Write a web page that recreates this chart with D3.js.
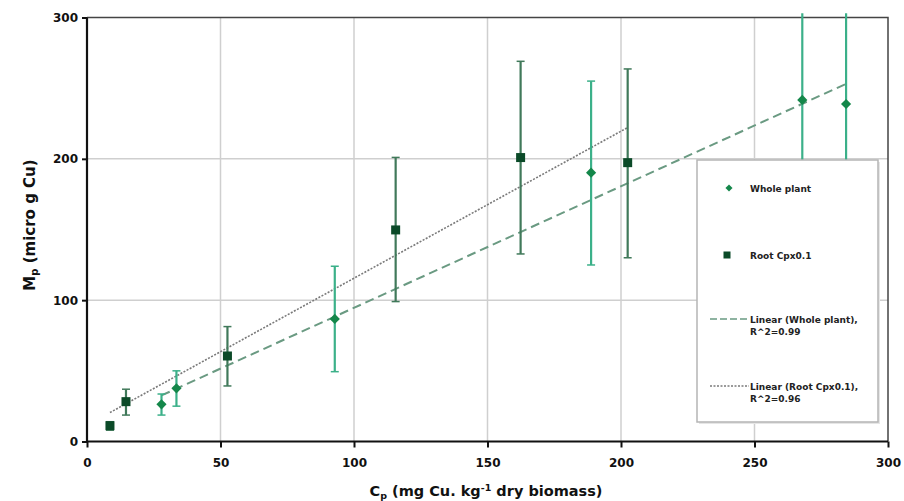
<!DOCTYPE html>
<html>
<head>
<meta charset="utf-8">
<script src="https://cdn.jsdelivr.net/npm/d3@7/dist/d3.min.js"></script>
<style>
  html, body { margin: 0; padding: 0; background: #fff; }
  svg { display: block; font-family: "DejaVu Sans", Verdana, sans-serif; }
</style>
</head>
<body>
<svg id="chart" width="904" height="501"></svg>
<script>
// Whole plant: Cp (mg Cu/kg dry biomass), Mp (µg Cu), error bar low/high
const wholeX   = [27.9, 33.5, 92.8, 188.8, 267.9, 284.3];
const wholeY   = [26.3, 37.6, 86.7, 190.2, 241.7, 238.8];
const wholeLo  = [18.7, 25.0, 49.4, 124.9, 180.0, 175.0];
const wholeHi  = [33.6, 50.0, 124.0, 255.0, 303.0, 303.0];

// Root (Cp x 0.1)
const rootX    = [8.6, 14.6, 52.6, 115.6, 162.4, 202.5];
const rootY    = [11.2, 28.2, 60.5, 149.7, 200.9, 197.3];
const rootLo   = [8.0, 18.7, 39.3, 99.0, 132.7, 130.0];
const rootHi   = [14.0, 37.0, 81.3, 201.0, 269.0, 263.6];

const xTicks = [0, 50, 100, 150, 200, 250, 300];
const yTicks = [0, 100, 200, 300];

const legendLabels = [
  ["Whole plant"],
  ["Root Cpx0.1"],
  ["Linear (Whole plant),", "R^2=0.99"],
  ["Linear (Root Cpx0.1),", "R^2=0.96"]
];

const C = {
  wholeMark: "#14874a",
  wholeErr: "#3bb089",
  rootMark: "#0b4a28",
  rootErr: "#40795a",
  wholeFit: "#6a9a82",
  rootFit: "#7a7a7a",
  grid: "#cfcfcf"
};

const svg = d3.select("#chart");
const pL = 87, pR = 888, pT = 17.5, pB = 441.5;

const x = d3.scaleLinear().domain([0, 300]).range([pL, pR]);
const y = d3.scaleLinear().domain([0, 300]).range([pB, pT]);

// least-squares fit over a series
function fit(xs, ys) {
  const mx = d3.mean(xs), my = d3.mean(ys);
  const sxy = d3.sum(xs, (v, i) => (v - mx) * (ys[i] - my));
  const sxx = d3.sum(xs, v => (v - mx) * (v - mx));
  const b = sxy / sxx;
  return { b, a: my - b * mx, x0: d3.min(xs), x1: d3.max(xs) };
}

// gridlines
svg.append("g").selectAll("line").data(xTicks.slice(1, -1)).join("line")
  .attr("x1", d => x(d)).attr("x2", d => x(d))
  .attr("y1", pT).attr("y2", pB)
  .attr("stroke", C.grid).attr("stroke-width", 1.5);
svg.append("g").selectAll("line").data(yTicks.slice(1, -1)).join("line")
  .attr("x1", pL).attr("x2", pR)
  .attr("y1", d => y(d)).attr("y2", d => y(d))
  .attr("stroke", C.grid).attr("stroke-width", 1.5);

// plot frame (top and right)
svg.append("path")
  .attr("d", `M${pL},${pT}H${pR}V${pB}`)
  .attr("fill", "none").attr("stroke", "#444").attr("stroke-width", 1.5);

// trend lines
const fw = fit(wholeX, wholeY);
const fr = fit(rootX, rootY);
svg.append("line")
  .attr("x1", x(fw.x0)).attr("y1", y(fw.a + fw.b * fw.x0))
  .attr("x2", x(fw.x1)).attr("y2", y(fw.a + fw.b * fw.x1))
  .attr("stroke", C.wholeFit).attr("stroke-width", 2)
  .attr("stroke-dasharray", "9,5");
svg.append("line")
  .attr("x1", x(fr.x0)).attr("y1", y(fr.a + fr.b * fr.x0))
  .attr("x2", x(fr.x1)).attr("y2", y(fr.a + fr.b * fr.x1))
  .attr("stroke", C.rootFit).attr("stroke-width", 1.6)
  .attr("stroke-dasharray", "2,1.5");

// error bars
function errorBars(xs, lo, hi, color, width) {
  const g = svg.append("g").attr("stroke", color).attr("stroke-width", width);
  xs.forEach((v, i) => {
    g.append("line").attr("x1", x(v)).attr("x2", x(v))
      .attr("y1", y(Math.min(hi[i], 303))).attr("y2", y(lo[i]));
    [lo[i], hi[i]].forEach(e => {
      if (e <= 300) {
        g.append("line").attr("x1", x(v) - 4).attr("x2", x(v) + 4)
          .attr("y1", y(e)).attr("y2", y(e)).attr("stroke-width", 1.5);
      }
    });
  });
}
errorBars(wholeX, wholeLo, wholeHi, C.wholeErr, 2.2);
errorBars(rootX, rootLo, rootHi, C.rootErr, 2.2);

// markers: rotated squares for the whole plant, squares for the root
svg.append("g").selectAll("rect").data(wholeX).join("rect")
  .attr("transform", (d, i) => `translate(${x(d)},${y(wholeY[i])}) rotate(45)`)
  .attr("x", -3.6).attr("y", -3.6).attr("width", 7.2).attr("height", 7.2)
  .attr("fill", C.wholeMark);
svg.append("g").selectAll("rect").data(rootX).join("rect")
  .attr("x", d => x(d) - 4.5).attr("y", (d, i) => y(rootY[i]) - 4.5)
  .attr("width", 9).attr("height", 9)
  .attr("fill", C.rootMark);

// axes
const xAxis = svg.append("g").attr("transform", `translate(0,${pB})`)
  .call(d3.axisBottom(x).tickValues(xTicks).tickSize(6).tickPadding(11));
const yAxis = svg.append("g").attr("transform", `translate(${pL},0)`)
  .call(d3.axisLeft(y).tickValues(yTicks).tickSize(5).tickPadding(4));
[xAxis, yAxis].forEach(a => {
  a.select(".domain").attr("stroke", "#111").attr("stroke-width", 2.2);
  a.selectAll(".tick line").attr("stroke", "#111").attr("stroke-width", 2);
  a.selectAll(".tick text").attr("font-size", 12).attr("font-weight", "bold")
    .attr("fill", "#111").attr("font-family", "DejaVu Sans, sans-serif");
});
yAxis.select(".domain").attr("d", `M0,${pT}V${pB}`);
xAxis.select(".domain").attr("d", `M${pL},0H${pR}`);

// axis titles
const xt = svg.append("text").attr("x", 486).attr("y", 496)
  .attr("text-anchor", "middle").attr("font-size", 14.5)
  .attr("font-weight", "bold").attr("fill", "#111");
xt.append("tspan").text("C");
xt.append("tspan").attr("font-size", 9.5).attr("dy", 3).text("p");
xt.append("tspan").attr("dy", -3).text(" (mg Cu. kg");
xt.append("tspan").attr("font-size", 9.5).attr("dy", -5).text("-1");
xt.append("tspan").attr("dy", 5).text(" dry biomass)");

const yt = svg.append("text")
  .attr("transform", "translate(35,225) rotate(-90)")
  .attr("text-anchor", "middle").attr("font-size", 15)
  .attr("font-weight", "bold").attr("fill", "#111");
yt.append("tspan").text("M");
yt.append("tspan").attr("font-size", 10).attr("dy", 3).text("p");
yt.append("tspan").attr("dy", -3).text(" (micro g Cu)");

// legend
const lg = svg.append("g");
lg.append("rect").attr("x", 699).attr("y", 162).attr("width", 181).attr("height", 262)
  .attr("fill", "#e6e6e6");
lg.append("rect").attr("x", 697).attr("y", 160).attr("width", 181).attr("height", 262)
  .attr("fill", "#fff").attr("stroke", "#b5b5b5").attr("stroke-width", 1.5);
const rowY = [188, 255, 319, 386];
lg.append("rect")
  .attr("transform", `translate(729,${rowY[0]}) rotate(45)`)
  .attr("x", -2.5).attr("y", -2.5).attr("width", 5).attr("height", 5)
  .attr("fill", C.wholeMark);
lg.append("rect").attr("x", 723.5).attr("y", rowY[1] - 3.5).attr("width", 7).attr("height", 7)
  .attr("fill", C.rootMark);
lg.append("line").attr("x1", 710).attr("x2", 749).attr("y1", rowY[2]).attr("y2", rowY[2])
  .attr("stroke", C.wholeFit).attr("stroke-width", 1.6).attr("stroke-dasharray", "7,3");
lg.append("line").attr("x1", 710).attr("x2", 749).attr("y1", rowY[3]).attr("y2", rowY[3])
  .attr("stroke", C.rootFit).attr("stroke-width", 1.4).attr("stroke-dasharray", "2,1.5");
legendLabels.forEach((lines, i) => {
  const t = lg.append("text").attr("x", 750).attr("y", rowY[i] + 3.5)
    .attr("font-size", 9).attr("font-weight", "bold").attr("fill", "#222");
  lines.forEach((s, j) => t.append("tspan").attr("x", 750).attr("dy", j ? 12 : 0).text(s));
});
</script>
</body>
</html>
